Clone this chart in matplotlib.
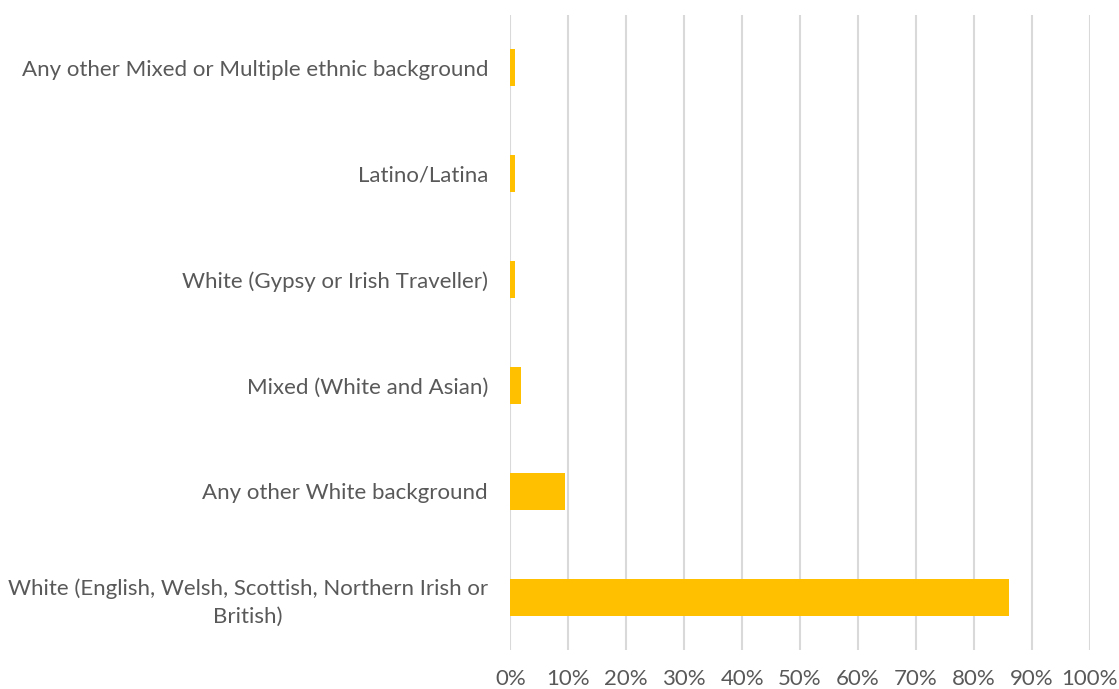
import matplotlib.pyplot as plt
from matplotlib.ticker import PercentFormatter

# categories from bottom to top
categories = [
    "White (English, Welsh, Scottish, Northern Irish or\nBritish)",
    "Any other White background",
    "Mixed (White and Asian)",
    "White (Gypsy or Irish Traveller)",
    "Latino/Latina",
    "Any other Mixed or Multiple ethnic background",
]
values = [86.0, 9.4, 1.9, 0.8, 0.8, 0.8]
xticks = list(range(0, 101, 10))

plt.rcParams['font.family'] = ['Lato', 'DejaVu Sans']

fig = plt.figure(figsize=(11.19, 6.89), dpi=100)
ax = fig.add_axes([0.456, 0.0566, 0.518, 0.9216])

ypos = range(len(categories))
ax.barh(ypos, values, height=0.35, color="#FFC000", zorder=3)

ax.set_xlim(0, 100)
ax.set_ylim(-0.5, len(categories) - 0.5)
ax.set_xticks(xticks)
ax.xaxis.set_major_formatter(PercentFormatter(decimals=0))
ax.set_yticks(list(ypos))
ax.set_yticklabels(categories, multialignment="center", linespacing=1.45)

ax.grid(axis="x", color="#D9D9D9", linewidth=1.5, zorder=0)
for s in ax.spines.values():
    s.set_visible(False)
ax.tick_params(axis="both", length=0, labelsize=16, colors="#595959")
ax.tick_params(axis="y", pad=16)
ax.tick_params(axis="x", pad=14)

fig.savefig("out.png", dpi=100)
